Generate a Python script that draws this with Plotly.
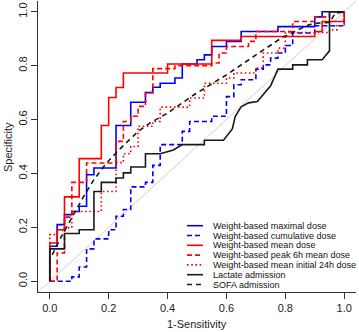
import plotly.graph_objects as go

# ---- data ----
ticks = [0.0, 0.2, 0.4, 0.6, 0.8, 1.0]
tick_labels = ["0.0", "0.2", "0.4", "0.6", "0.8", "1.0"]

# step curves (drawn with hv steps)
max_x = [0, 0, 0.025, 0.05, 0.075, 0.10, 0.125, 0.15, 0.225, 0.275, 0.325, 0.35, 0.375, 0.425, 0.45, 0.50, 0.525, 0.55, 0.60, 0.65, 0.775, 0.90, 0.925, 1.0]
max_y = [0, 0.13, 0.21, 0.247, 0.259, 0.278, 0.395, 0.42, 0.578, 0.664, 0.70, 0.72, 0.735, 0.754, 0.806, 0.822, 0.84, 0.871, 0.89, 0.927, 0.945, 0.981, 1.0, 1.0]

cum_x = [0, 0.075, 0.10, 0.125, 0.15, 0.20, 0.225, 0.25, 0.275, 0.325, 0.35, 0.375, 0.45, 0.475, 0.55, 0.60, 0.625, 0.65, 0.70, 0.725, 0.75, 0.775, 0.80, 0.825, 0.90, 1.0]
cum_y = [0, 0.016, 0.053, 0.12, 0.157, 0.191, 0.241, 0.266, 0.35, 0.367, 0.43, 0.507, 0.556, 0.593, 0.612, 0.685, 0.729, 0.748, 0.787, 0.803, 0.828, 0.847, 0.875, 0.921, 0.948, 1.0]

mean_x = [0, 0, 0.025, 0.05, 0.10, 0.175, 0.20, 0.225, 0.25, 0.40, 0.55, 0.65, 0.90, 0.925, 1.0]
mean_y = [0, 0.142, 0.191, 0.313, 0.455, 0.578, 0.682, 0.719, 0.773, 0.806, 0.894, 0.908, 0.927, 0.964, 1.0]

peak_x = [0, 0.025, 0.05, 0.075, 0.125, 0.225, 0.25, 0.275, 0.30, 0.325, 0.35, 0.425, 0.55, 0.575, 0.60, 0.675, 0.70, 0.825, 0.90, 0.95, 1.0]
peak_y = [0, 0.105, 0.238, 0.367, 0.439, 0.519, 0.593, 0.612, 0.649, 0.70, 0.789, 0.80, 0.81, 0.847, 0.871, 0.89, 0.927, 0.964, 0.981, 1.0, 1.0]

init_x = [0, 0, 0.025, 0.05, 0.075, 0.175, 0.225, 0.25, 0.275, 0.30, 0.35, 0.375, 0.475, 0.525, 0.60, 0.625, 0.70, 0.725, 0.775, 0.80, 0.95, 0.975, 1.0]
init_y = [0, 0.173, 0.19, 0.198, 0.259, 0.333, 0.44, 0.473, 0.50, 0.575, 0.593, 0.646, 0.68, 0.735, 0.754, 0.773, 0.791, 0.847, 0.865, 0.923, 0.933, 0.948, 1.0]

# curves with tied (diagonal) segments (drawn linearly)
lac_x = [0, 0, 0.05, 0.05, 0.10, 0.10, 0.15, 0.15, 0.175, 0.175, 0.225, 0.225, 0.25, 0.25, 0.275, 0.275, 0.325, 0.325, 0.375, 0.42, 0.45, 0.525, 0.525, 0.59, 0.62, 0.63, 0.65, 0.675, 0.705, 0.75, 0.775, 0.825, 0.825, 0.875, 0.875, 0.925, 0.95, 0.95, 1.0]
lac_y = [0, 0.12, 0.12, 0.177, 0.177, 0.191, 0.191, 0.333, 0.333, 0.367, 0.367, 0.383, 0.383, 0.402, 0.402, 0.424, 0.424, 0.473, 0.473, 0.487, 0.507, 0.507, 0.523, 0.523, 0.565, 0.612, 0.647, 0.662, 0.667, 0.725, 0.787, 0.787, 0.803, 0.803, 0.822, 0.822, 0.855, 1.0, 1.0]

sofa_x = [0, 0, 0.04, 0.08, 0.115, 0.15, 0.19, 0.23, 0.30, 0.34, 0.40, 0.49, 0.60, 0.71, 0.79, 0.88, 0.91, 0.95, 0.97, 1.0]
sofa_y = [0, 0.08, 0.167, 0.247, 0.315, 0.377, 0.435, 0.482, 0.556, 0.587, 0.624, 0.692, 0.766, 0.847, 0.905, 0.952, 0.958, 0.96, 0.995, 1.0]

diag = [-0.04, 1.04]

names = ["Weight-based maximal dose", "Weight-based cumulative dose", "Weight-based mean dose",
         "Weight-based peak 6h mean dose", "Weight-based mean initial 24h dose",
         "Lactate admission", "SOFA admission"]

BLUE = "#0000ff"
RED = "#ff0000"
BLACK = "#1a1a1a"
DASH = "5px,3px"
DOT = "1.6px,2.6px"
SDASH = "5px,4px"
LW = 1.6

styles = [
    (BLUE, "solid"), (BLUE, DASH), (RED, "solid"), (RED, DASH), (RED, DOT),
    (BLACK, "solid"), (BLACK, SDASH),
]
series = [(max_x, max_y, "hv"), (cum_x, cum_y, "hv"), (mean_x, mean_y, "hv"),
          (peak_x, peak_y, "hv"), (init_x, init_y, "hv"),
          (lac_x, lac_y, "linear"), (sofa_x, sofa_y, "linear")]

fig = go.Figure()
fig.add_trace(go.Scatter(x=diag, y=diag, mode="lines",
                         line=dict(color="#cfcfcf", width=1), hoverinfo="skip"))
for (xs, ys, shp), (col, dsh), nm in zip(series, styles, names):
    fig.add_trace(go.Scatter(x=xs, y=ys, mode="lines", name=nm,
                             line=dict(color=col, width=LW, dash=dsh, shape=shp)))

# ---- layout ----
W, H = 359, 332
ML, MR, MT, MB = 38, 3, 1, 40
PW, PH = W - ML - MR, H - MT - MB

def px2paper_x(px):
    return (px - ML) / PW

def px2paper_y(py):
    return (H - MB - py) / PH

axis_common = dict(
    range=[-0.04, 1.04], showline=True, linecolor="#333", linewidth=1,
    ticks="outside", ticklen=6, tickcolor="#333", tickwidth=1,
    tickvals=ticks, ticktext=tick_labels, showgrid=False, zeroline=False,
    tickfont=dict(family="Liberation Sans, Arial", size=11, color="#222"),
    mirror=False, fixedrange=True,
)

fig.update_layout(
    width=W, height=H, autosize=False,
    margin=dict(l=ML, r=MR, t=MT, b=MB, pad=0),
    paper_bgcolor="white", plot_bgcolor="white",
    showlegend=False,
    xaxis=dict(**axis_common),
    yaxis=dict(**axis_common, tickangle=-90),
    font=dict(family="Liberation Sans, Arial", color="#222"),
)

annotations = [
    dict(text="1-Sensitivity", x=0.5, y=px2paper_y(323.5), xref="paper", yref="paper",
         xanchor="center", yanchor="middle", showarrow=False,
         font=dict(size=11, family="Liberation Sans, Arial", color="#222")),
    dict(text="Specificity", x=px2paper_x(7.5), y=0.5, xref="paper", yref="paper",
         xanchor="center", yanchor="middle", showarrow=False, textangle=-90,
         font=dict(size=11, family="Liberation Sans, Arial", color="#222")),
]

shapes = []
leg_rows = [225.7, 235.5, 245.3, 255.1, 264.9, 274.7, 284.5]
for (col, dsh), nm, py in zip(styles, names, leg_rows):
    shapes.append(dict(type="line", xref="paper", yref="paper",
                       x0=px2paper_x(187), x1=px2paper_x(203),
                       y0=px2paper_y(py), y1=px2paper_y(py),
                       line=dict(color=col, width=LW, dash=dsh)))
    annotations.append(dict(text=nm, x=px2paper_x(210.5), y=px2paper_y(py),
                            xref="paper", yref="paper", xanchor="left", yanchor="middle",
                            showarrow=False,
                            font=dict(size=9, family="Liberation Sans, Arial", color="#111")))

fig.update_layout(annotations=annotations, shapes=shapes)
fig.write_html("out.html", config={"displayModeBar": False},
               post_script="document.body.style.margin='0';document.body.style.overflow='hidden';")
